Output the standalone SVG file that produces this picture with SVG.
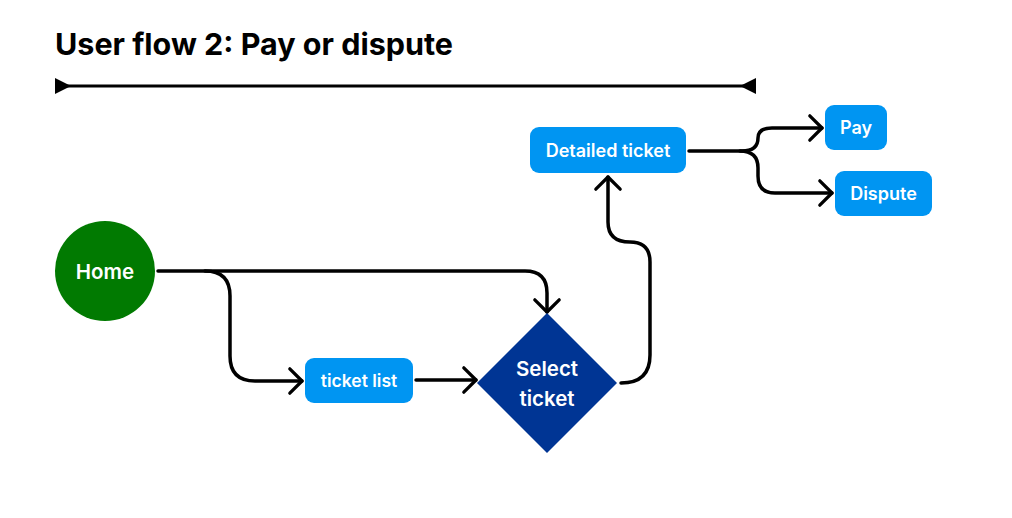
<svg xmlns="http://www.w3.org/2000/svg" width="1012" height="518" viewBox="0 0 1012 518">
<defs>
<style>
.title{font-family:Inter,"Open Sans",sans-serif;font-weight:700;font-size:30.5px;fill:#000}
.lbl{font-family:Inter,"Open Sans",sans-serif;font-weight:600;fill:#fff;text-anchor:middle;dominant-baseline:central}
.edge{fill:none;stroke:#000;stroke-width:3.5;stroke-linecap:round;stroke-linejoin:round}
.box{fill:#0095F2}
</style>
<marker id="chev" markerUnits="userSpaceOnUse" markerWidth="30" markerHeight="30" viewBox="-16 -16 32 32" refX="0" refY="0" orient="auto">
<path d="M-13 -13 L0 0 L-13 13" fill="none" stroke="#000" stroke-width="3.5" stroke-linecap="round" stroke-linejoin="round"/>
</marker>
</defs>
<rect width="1012" height="518" fill="#fff"/>
<g id="title">
<text class="title" x="55" y="55">User flow 2: Pay or dispute</text>
</g>
<g id="timeline">
<line x1="62" y1="86" x2="748" y2="86" stroke="#000" stroke-width="3"/>
<polygon points="55,78 71,86 55,94" fill="#000"/>
<polygon points="756,78 740,86 756,94" fill="#000"/>
</g>
<g id="connectors">
<path class="edge" d="M158 271 H525 Q547 271 547 293 V312" marker-end="url(#chev)"/>
<path class="edge" d="M205 271 Q230 271 230 296 V356 Q230 381 255 381 H302" marker-end="url(#chev)"/>
<path class="edge" d="M416 380 H476" marker-end="url(#chev)"/>
<path class="edge" d="M621 383 Q650 383 650 355 V262 Q650 242 630 242 Q608 242 608 222 V177" marker-end="url(#chev)"/>
<path class="edge" d="M689 151 H742 Q758 151 758 138 Q758 128 772 128 H822" marker-end="url(#chev)"/>
<path class="edge" d="M740 151 Q758 151 758 168 V176 Q758 193 775 193 H832" marker-end="url(#chev)"/>
</g>
<g id="home">
<circle cx="105" cy="271" r="50" fill="#017A01"/>
<text class="lbl" x="105" y="271" font-size="20.5">Home</text>
</g>
<g id="ticket-list">
<rect class="box" x="305" y="358" width="108" height="45" rx="9"/>
<text class="lbl" x="359" y="380.5" font-size="17.5">ticket list</text>
</g>
<g id="select-ticket">
<polygon points="547,313 617,383 547,453 477,383" fill="#003594"/>
<text class="lbl" x="547" y="368" font-size="20.5">Select</text>
<text class="lbl" x="547" y="398" font-size="20.5">ticket</text>
</g>
<g id="detailed-ticket">
<rect class="box" x="530" y="127" width="156" height="46" rx="9"/>
<text class="lbl" x="608" y="150" font-size="18">Detailed ticket</text>
</g>
<g id="pay">
<rect class="box" x="825" y="105" width="62" height="45" rx="9"/>
<text class="lbl" x="856" y="127.5" font-size="18">Pay</text>
</g>
<g id="dispute">
<rect class="box" x="835" y="171" width="97" height="45" rx="9"/>
<text class="lbl" x="883.5" y="193.5" font-size="18">Dispute</text>
</g>
</svg>
